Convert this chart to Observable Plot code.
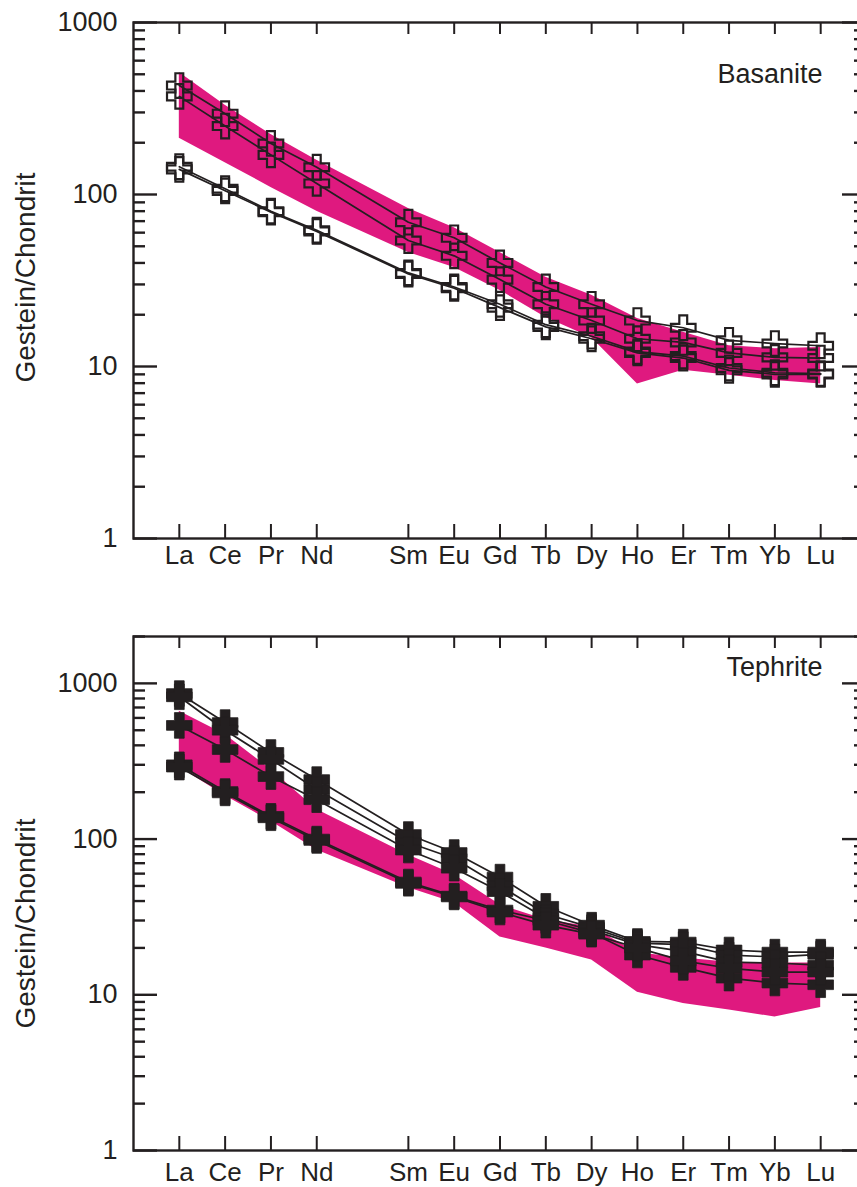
<!DOCTYPE html>
<html>
<head>
<meta charset="utf-8">
<script src="https://cdn.jsdelivr.net/npm/d3@7"></script>
<script src="https://cdn.jsdelivr.net/npm/@observablehq/plot@0.6"></script>
<style>
html, body { margin: 0; padding: 0; background: #fff; overflow: hidden; }
#chart { width: 857px; height: 1187px; overflow: hidden; position: relative; }
#chart svg { display: block; max-width: none !important; height: auto; }
</style>
</head>
<body>
<div id="chart"></div>
<script>
// ---- Data ----
const reeOrder = ["La","Ce","Pr","Nd","Pm","Sm","Eu","Gd","Tb","Dy","Ho","Er","Tm","Yb","Lu"];
const elements = ["La","Ce","Pr","Nd","Sm","Eu","Gd","Tb","Dy","Ho","Er","Tm","Yb","Lu"];
const yTickValues = [1, 10, 100, 1000];

// Basanite samples (rock / chondrite)
const basanite1 = [430, 295, 198, 144, 69, 56, 40, 29, 23, 18.5, 16.8, 14.2, 13.6, 13.2];
const basanite2 = [372, 250, 170, 116, 54, 44, 32, 23, 18.5, 14.5, 13.8, 12, 11.3, 11.2];
const basanite3 = [145, 108, 80, 62, 35, 29, 23, 17.5, 15, 12.2, 11.5, 9.8, 9.2, 9.1];
const basanite4 = [140, 105, 79, 61, 34.5, 28.5, 22, 17, 14.5, 12, 11.2, 9.5, 9, 9];
const basaniteBandHigh = [512, 330, 223, 158, 83, 64, 46, 33, 26, 19, 15.8, 13.2, 12.7, 12.9];
const basaniteBandLow  = [212, 153, 110, 80, 46, 37.6, 27.7, 19.3, 14.7, 7.9, 9.5, 8.9, 8.3, 7.9];

// Tephrite samples
const tephrite1 = [860, 560, 360, 241, 107, 82, 57, 37, 28, 22, 21.8, 19.4, 18.8, 18.8];
const tephrite2 = [820, 500, 325, 208, 95, 75, 50, 33, 27, 21.5, 21, 18, 17.5, 18.2];
const tephrite3 = [537, 376, 252, 179, 85, 65, 46, 31, 26, 21, 19, 16.2, 16, 15.5];
const tephrite4 = [300, 202, 140, 100, 53, 43, 35, 30, 25, 18, 15, 12.8, 11.9, 11.6];
const tephrite5 = [290, 198, 137, 98, 52, 42.5, 34, 28, 24.5, 20, 16.5, 14.8, 14, 14];
const tephriteBandHigh = [661, 470, 280, 155, 79, 59, 37.8, 30.3, 27.3, 18.6, 17.2, 16.2, 16, 16];
const tephriteBandLow  = [290, 190, 130, 85, 48.7, 39, 23.5, 20, 16.7, 10.4, 8.8, 8.0, 7.2, 8.3];

// ---- Styling ----
const INK = "#231f20";
const PINK = "#df197f";
const FONT = "'Liberation Sans', Arial, Helvetica, sans-serif";

function plusShape(armRatio) {
  return {
    draw(context, size) {
      const h = Math.sqrt(size / Math.PI);
      const w = h * armRatio;
      context.moveTo(-w, -h);
      context.lineTo(w, -h);
      context.lineTo(w, -w);
      context.lineTo(h, -w);
      context.lineTo(h, w);
      context.lineTo(w, w);
      context.lineTo(w, h);
      context.lineTo(-w, h);
      context.lineTo(-w, w);
      context.lineTo(-h, w);
      context.lineTo(-h, -w);
      context.lineTo(-w, -w);
      context.closePath();
    }
  };
}

function panel(o) {
  const W = 870, ML = 133, MR = 4;
  const plotW = W - ML - MR;
  const plotH = o.height - o.marginTop - o.marginBottom;
  const minor = d3.scaleLog().domain(o.yDomain).ticks().filter(v => !yTickValues.includes(v));
  const rows = [];
  o.series.forEach((vals, s) => vals.forEach((v, i) => rows.push({sample: s, el: elements[i], v})));
  const band = elements.map((el, i) => ({el, lo: o.bandLow[i], hi: o.bandHigh[i]}));
  const tickStyle = {stroke: INK, strokeWidth: 2.4};
  return Plot.plot({
    width: W,
    height: o.height,
    marginLeft: ML,
    marginRight: MR,
    marginTop: o.marginTop,
    marginBottom: o.marginBottom,
    style: {fontFamily: FONT, fontSize: "26px", color: INK, background: "#fff", overflow: "visible", maxWidth: "none"},
    x: {type: "point", domain: reeOrder, padding: 1, round: false},
    y: {type: "log", domain: o.yDomain},
    marks: [
      Plot.areaY(band, {x: "el", y1: "lo", y2: "hi", fill: PINK}),
      Plot.line(rows, {x: "el", y: "v", z: "sample", stroke: INK, strokeWidth: 1.7}),
      Plot.dot(rows, {
        x: "el", y: "v", symbol: o.symbol, r: o.r,
        fill: o.filled ? INK : "none", stroke: INK, strokeWidth: o.filled ? 0.8 : 2.2
      }),
      Plot.frame({stroke: INK, strokeWidth: 2.4}),
      Plot.tickY(minor, {y: d => d, ...tickStyle, insetRight: plotW - 12}),
      Plot.tickY(yTickValues, {y: d => d, ...tickStyle, insetRight: plotW - 24}),
      Plot.tickY(minor, {y: d => d, ...tickStyle, insetLeft: plotW - 12}),
      Plot.tickY(yTickValues, {y: d => d, ...tickStyle, insetLeft: plotW - 24}),
      Plot.tickX(elements, {x: d => d, stroke: INK, strokeWidth: 2, insetBottom: plotH - 12}),
      Plot.tickX(elements, {x: d => d, stroke: INK, strokeWidth: 2, insetTop: plotH - 14}),
      Plot.axisY(yTickValues, {anchor: "left", tickSize: 0, tickPadding: 16, tickFormat: d => String(d), fontSize: 27, label: null}),
      Plot.axisX(elements, {anchor: "bottom", tickSize: 0, tickPadding: o.xPad, fontSize: 26, label: null}),
      Plot.text([o.title], {frameAnchor: "top-right", dx: -44, dy: o.titleDy, textAnchor: "end", lineAnchor: "middle", fontSize: 27, fill: INK}),
      Plot.text(["Gestein/Chondrit"], {frameAnchor: "left", rotate: -90, dx: -107, dy: o.labelDy, textAnchor: "middle", lineAnchor: "middle", fontSize: 28, fill: INK})
    ]
  });
}

const chart = document.getElementById("chart");
chart.append(panel({
  height: 590, marginTop: 22, marginBottom: 52, yDomain: [1, 1000],
  series: [basanite1, basanite2, basanite3, basanite4],
  bandHigh: basaniteBandHigh, bandLow: basaniteBandLow,
  symbol: plusShape(0.32), r: 12.3, filled: false,
  title: "Basanite", titleDy: 52, labelDy: -3, xPad: 7
}));
chart.append(panel({
  height: 597, marginTop: 46, marginBottom: 37, yDomain: [1, 2000],
  series: [tephrite1, tephrite2, tephrite3, tephrite4, tephrite5],
  bandHigh: tephriteBandHigh, bandLow: tephriteBandLow,
  symbol: plusShape(0.38), r: 12.8, filled: true,
  title: "Tephrite", titleDy: 31, labelDy: 30, xPad: 12
}));
</script>
</body>
</html>
